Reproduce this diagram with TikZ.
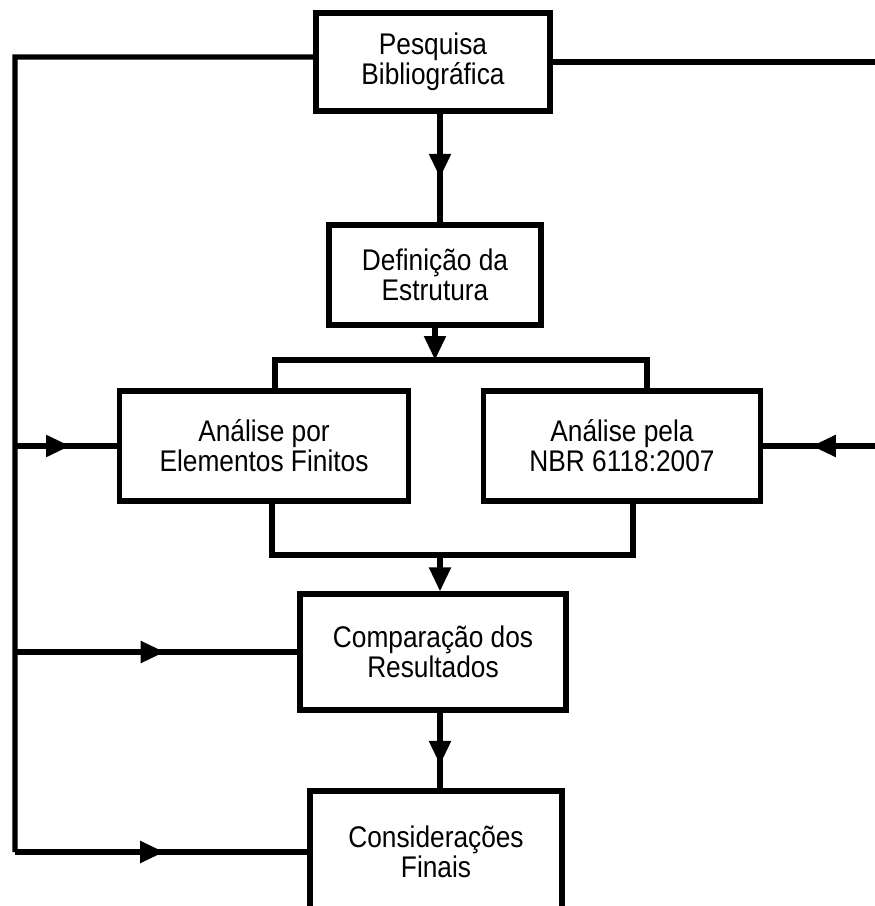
\documentclass[tikz,border=0pt]{standalone}
\usepackage{fontspec}
\setmainfont{Liberation Sans}[FakeStretch=0.88]
\usetikzlibrary{arrows.meta,decorations.markings}

\begin{document}
\begin{tikzpicture}[
  x=0.02cm, y=-0.02cm,
  line width=3pt,
  tip/.tip={Triangle[length=0.48cm,width=0.42cm]},
  block/.style={draw, line width=3pt, align=center, inner sep=0pt,
    font=\fontsize{17}{17}\selectfont},
  midarrow/.style={postaction={decorate}, decoration={markings,
    mark=at position #1 with {\arrow{tip}}}}
]
  \path[use as bounding box, clip] (0,0) rectangle (875,906);
  \node[block, minimum width=4.68cm, minimum height=1.96cm] (pesq) at (433,62) {Pesquisa\\Bibliográfica};
  \node[block, minimum width=4.24cm, minimum height=2cm] (def) at (435,275) {Definição da\\Estrutura};
  \node[block, minimum width=5.78cm, minimum height=2.2cm] (aef) at (264,446) {Análise por\\Elementos Finitos};
  \node[block, minimum width=5.54cm, minimum height=2.2cm] (nbr) at (622,446) {Análise pela\\NBR 6118:2007};
  \node[block, minimum width=5.32cm, minimum height=2.32cm] (comp) at (433,652) {Comparação dos\\Resultados};
  \node[block, minimum width=5.04cm, minimum height=2.44cm] (cons) at (436,852) {Considerações\\Finais};

  \coordinate (spine) at (440,0);
  \coordinate (tl) at (275,360);
  \coordinate (tr) at (647,360);
  \coordinate (bl) at (272,555);
  \coordinate (br) at (633,555);
  \coordinate (rail) at (15,57);
  \coordinate (rrail) at (885,62);

  \draw[midarrow=0.59] (pesq.south -| spine) -- (def.north -| spine);
  \draw[-tip] (def.south) -- (def.south |- tl);
  \draw (aef.north -| tl) -- (tl) -- (tr) -- (nbr.north -| tr);
  \draw (aef.south -| bl) -- (bl) -- (br) -- (nbr.south -| br);
  \draw[-tip] (spine |- bl) -- (comp.north -| spine);
  \draw[midarrow=0.69] (comp.south -| spine) -- (cons.north -| spine);

  \draw ([yshift=0.1cm]pesq.west) -- (rail) -- (rail |- cons.west);
  \draw[midarrow=0.54] (rail |- aef.west) -- (aef.west);
  \draw[midarrow=0.53] (rail |- comp.west) -- (comp.west);
  \draw[midarrow=0.51] (rail |- cons.west) -- (cons.west);

  \draw (pesq.east) -- (rrail) -- (rrail |- nbr.east);
  \draw[midarrow=0.6] (rrail |- nbr.east) -- (nbr.east);
\end{tikzpicture}
\end{document}
